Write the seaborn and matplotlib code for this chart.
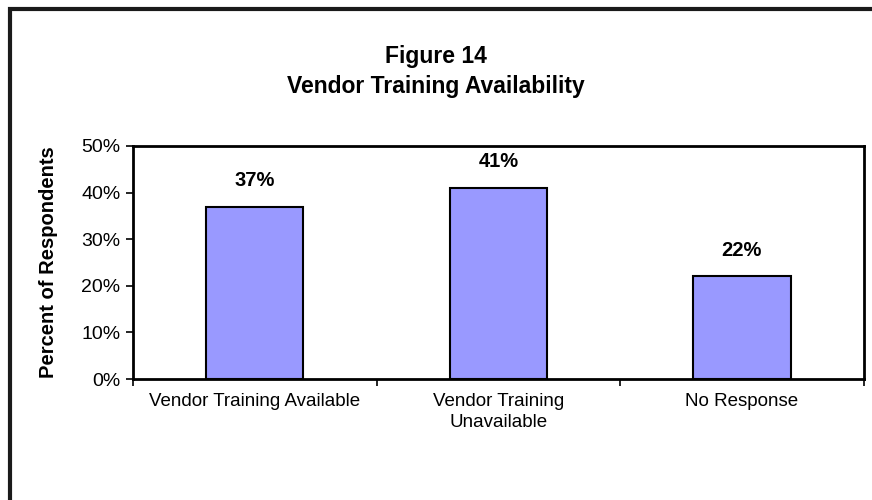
import matplotlib
matplotlib.use("Agg")
import matplotlib.pyplot as plt
import seaborn as sns
import pandas as pd
from matplotlib.patches import Rectangle
from matplotlib.ticker import PercentFormatter

# data
categories = ["Vendor Training Available", "Vendor Training\nUnavailable", "No Response"]
percents = [37, 41, 22]
bar_labels = ["37%", "41%", "22%"]

sns.set_style("white")
plt.rcParams["font.family"] = ["Liberation Sans", "DejaVu Sans"]
plt.rcParams["text.color"] = "black"
plt.rcParams["axes.labelcolor"] = "black"
plt.rcParams["xtick.color"] = "black"
plt.rcParams["ytick.color"] = "black"

df = pd.DataFrame({"category": categories, "percent": percents})

fig = plt.figure(figsize=(8.72, 5.0), dpi=100)
ax = fig.add_axes([0.1525, 0.242, 0.838, 0.466])

sns.barplot(data=df, x="category", y="percent", color="#9999FF",
            saturation=1, width=0.40, edgecolor="black", linewidth=1.5, ax=ax)

ax.set_ylim(0, 50)
ax.set_xlim(-0.5, 2.5)
ax.set_yticks([0, 10, 20, 30, 40, 50])
ax.yaxis.set_major_formatter(PercentFormatter(decimals=0))
ax.tick_params(axis="y", direction="out", length=5, width=1.2, labelsize=14, pad=4, left=True)
ax.set_xticks([0, 1, 2])
ax.set_xticklabels(categories, fontsize=13.5, linespacing=1.35)
ax.tick_params(axis="x", length=0, pad=10)
# excel-style ticks at category boundaries
ax.set_xticks([-0.5, 0.5, 1.5, 2.5], minor=True)
ax.tick_params(axis="x", which="minor", direction="out", length=5, width=1.2, bottom=True)

for s in ax.spines.values():
    s.set_visible(True)
    s.set_color("black")
    s.set_linewidth(2)

ax.set_xlabel("")
ax.set_ylabel("Percent of Respondents", fontsize=14.5, fontweight="bold", labelpad=17)

for i, (v, lab) in enumerate(zip(percents, bar_labels)):
    ax.annotate(lab, (i, v), xytext=(0, 12), textcoords="offset points",
                ha="center", va="bottom", fontsize=14.5, fontweight="bold")

fig.text(0.5, 0.888, "Figure 14", ha="center", va="center", fontsize=16.5, fontweight="bold")
fig.text(0.5, 0.826, "Vendor Training Availability", ha="center", va="center",
         fontsize=16.5, fontweight="bold")

# outer chart border (cropped on the right and bottom)
fig.patches.append(Rectangle((10 / 872, -0.1), 1.2, 1.1 - 9 / 500, transform=fig.transFigure,
                             fill=False, edgecolor="#1a1a1a", linewidth=3, zorder=10))

fig.savefig("out.png", dpi=100)
